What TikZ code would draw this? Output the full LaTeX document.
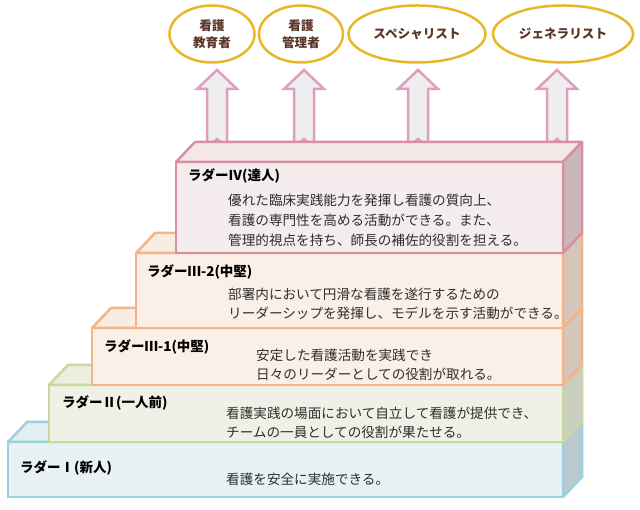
\documentclass[tikz,border=0pt]{standalone}
\usepackage{fontspec}
\setmainfont{Noto Sans CJK JP}
\usetikzlibrary{shapes.geometric}
\definecolor{goalline}{HTML}{E8B727}
\definecolor{goaltext}{HTML}{5A3526}
\definecolor{arrowline}{HTML}{E09DC2}
\definecolor{arrowfill}{HTML}{EEEEEE}
\definecolor{desctext}{HTML}{2E2E2E}
% step colours: line, front, top, side
\definecolor{pkline}{HTML}{D98FA2}
\definecolor{pkface}{HTML}{F5EDED}
\definecolor{pktop}{HTML}{F3E7E8}
\definecolor{pkside}{HTML}{C9B6BA}
\definecolor{orline}{HTML}{F5B487}
\definecolor{orface}{HTML}{FAF0E8}
\definecolor{ortop}{HTML}{F9ECE0}
\definecolor{orside}{HTML}{D6C5BB}
\definecolor{grline}{HTML}{C8D89E}
\definecolor{grface}{HTML}{EFF1E6}
\definecolor{grtop}{HTML}{ECEFE0}
\definecolor{grside}{HTML}{CACFC0}
\definecolor{blline}{HTML}{9CCFE0}
\definecolor{blface}{HTML}{E8F1F4}
\definecolor{bltop}{HTML}{E2EEF2}
\definecolor{blside}{HTML}{B9C9CF}
% #1 name, #2 lower left, #3 width, #4 height, #5 colour prefix
\newcommand{\ladderbox}[5]{%
  \node[face, draw=#5line, fill=#5face, minimum width=#3pt, minimum height=#4pt, anchor=south west] (#1) at (#2) {};
  \filldraw[edge, draw=#5line, fill=#5top] (#1.north west) -- ++(19,20) -- ([shift={(19,20)}]#1.north east) -- (#1.north east) -- cycle;
  \filldraw[edge, draw=#5line, fill=#5side] (#1.north east) -- ++(19,20) -- ([shift={(19,20)}]#1.south east) -- (#1.south east) -- cycle;
}

\begin{document}
\begin{tikzpicture}[x=1pt, y=1pt,
  goal/.style={ellipse, draw=goalline, line width=2.5pt, fill=white, inner sep=0pt, minimum height=57pt, align=center, text=goaltext, font=\fontsize{12.6}{17}\selectfont\bfseries},
  face/.style={rectangle, line width=2.5pt, inner sep=0pt, outer sep=0pt},
  edge/.style={line width=2.5pt, line join=round},
  title/.style={anchor=west, inner sep=0pt, font=\fontsize{13.5}{16}\selectfont\bfseries},
  desc/.style={anchor=west, align=left, inner sep=0pt, text=desctext, font=\fontsize{13.6}{19}\selectfont},
  uparrow/.style={draw=arrowline, fill=arrowfill, line width=2.5pt}]
\useasboundingbox (0,0) rectangle (640,510);

% Goals
\node[goal, minimum width=85pt] (edu) at (212,476) {看護\\教育者};
\node[goal, minimum width=84pt] (mgr) at (301,476) {看護\\管理者};
\node[goal, minimum width=137pt] (spc) at (417,476) {スペシャリスト};
\node[goal, minimum width=140pt] (gen) at (563,476) {ジェネラリスト};

% Arrows (behind the top step)
\foreach \ax in {217,304,418,557}
  \filldraw[uparrow] (\ax-10,362) -- (\ax-10,421) -- (\ax-20,421) -- (\ax,440) -- (\ax+20,421) -- (\ax+10,421) -- (\ax+10,362) -- (\ax,371) -- cycle;

% Steps, bottom first
\ladderbox{lv1}{8,13}{555}{55}{bl}
\ladderbox{lv2}{49,68}{514}{57}{gr}
\ladderbox{lv3a}{92,125}{471}{57}{or}
\ladderbox{lv3b}{136,182}{427}{75}{or}
\ladderbox{lv4}{176,257}{387}{91}{pk}

% Titles
\node[title] (t1) at (20,42) {ラダーⅠ(新人)};
\node[title] (t2) at (62,107) {ラダーⅡ(一人前)};
\node[title] (t3a) at (104,163) {ラダーⅢ-1(中堅)};
\node[title] (t3b) at (147,238) {ラダーⅢ-2(中堅)};
\node[title] (t4) at (188,334) {ラダーⅣ(達人)};

% Descriptions
\node[desc] (d1) at (226,31) {看護を安全に実施できる。};
\node[desc] (d2) at (226,87.5) {看護実践の場面において自立して看護が提供でき、\\チームの一員としての役割が果たせる。};
\node[desc] (d3a) at (256,145.5) {安定した看護活動を実践でき\\日々のリーダーとしての役割が取れる。};
\node[desc] (d3b) at (228,206) {部署内において円滑な看護を遂行するための\\リーダーシップを発揮し、モデルを示す活動ができる。};
\node[desc, font=\fontsize{13.6}{20}\selectfont] (d4) at (228,290) {優れた臨床実践能力を発揮し看護の質向上、\\看護の専門性を高める活動ができる。また、\\管理的視点を持ち、師長の補佐的役割を担える。};
\end{tikzpicture}
\end{document}
